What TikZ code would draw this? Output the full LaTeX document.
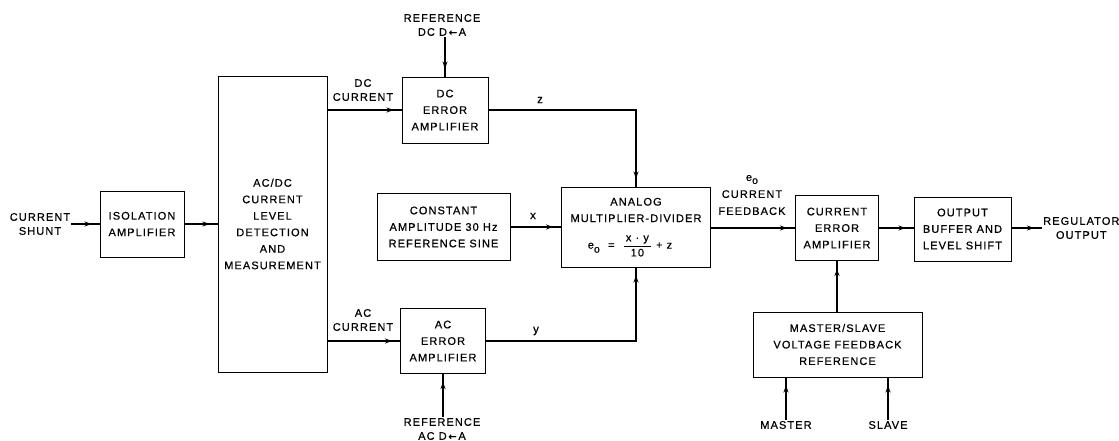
\documentclass[tikz,border=0pt]{standalone}
\usepackage{fontspec}
\usepackage{amsmath}
\setmainfont{Liberation Sans}[LetterSpace=10,FakeBold=0.6]
\newfontfamily\dvs{DejaVu Sans}[FakeBold=0.6]
\usetikzlibrary{arrows.meta,decorations.markings}
\newcommand{\lar}{{\dvs\fontsize{10}{10}\selectfont\,←\,}}
\begin{document}
\begin{tikzpicture}[x=1pt,y=-1pt,
  blk/.style={draw, line width=0.9pt, inner sep=0pt, align=center,
    font=\fontsize{11}{16.5}\selectfont},
  lbl/.style={inner sep=1pt, align=center, font=\fontsize{11}{14}\selectfont},
  sym/.style={inner sep=0pt, font=\fontsize{11.5}{11.5}\selectfont},
  conn/.style={line width=1.7pt, postaction={decorate},
    decoration={markings, mark=at position -8pt with {\arrow{Stealth[length=7pt,width=5pt]}}}}]
\useasboundingbox (0,0) rectangle (1119,440);
% boxes
\node[blk, minimum width=84pt, minimum height=66pt] (iso) at (142,224) {ISOLATION\\AMPLIFIER};
\node[blk, minimum width=109pt, minimum height=296pt] (acdc) at (272.5,224) {AC/DC\\CURRENT\\LEVEL\\DETECTION\\AND\\MEASUREMENT};
\node[blk, minimum width=86pt, minimum height=66pt] (dcea) at (445,110) {DC\\ERROR\\AMPLIFIER};
\node[blk, minimum width=85pt, minimum height=65pt] (acea) at (443,341) {AC\\ERROR\\AMPLIFIER};
\node[blk, minimum width=133pt, minimum height=67pt] (const) at (443.5,227) {CONSTANT\\AMPLITUDE 30 Hz\\REFERENCE SINE};
\node[blk, minimum width=149pt, minimum height=80pt] (mult) at (636,227) {};
\node[lbl] (multt) at (636,210) {ANALOG\\[2.5pt]MULTIPLIER-DIVIDER};
\node[lbl] (multf) at (630,246)
  {e\raisebox{-4pt}{\fontsize{10.5}{10.5}\selectfont o}\ \ =\ \ $\dfrac{\text{\,x · y\,}\rule[-2pt]{0pt}{0pt}}{\rule{0pt}{9pt}\text{10}}$\ + z};
\node[blk, minimum width=83pt, minimum height=65pt] (cea) at (837,228) {CURRENT\\ERROR\\AMPLIFIER};
\node[blk, minimum width=97pt, minimum height=64pt] (obuf) at (962.5,229) {OUTPUT\\BUFFER AND\\LEVEL SHIFT};
\node[blk, minimum width=169pt, minimum height=65pt] (ms) at (837.5,344.5) {MASTER/SLAVE\\VOLTAGE FEEDBACK\\REFERENCE};
% labels
\node[lbl] (shunt) at (40,224) {CURRENT\\SHUNT};
\node[lbl] (dccur) at (363,90) {DC\\CURRENT};
\node[lbl] (accur) at (363,320) {AC\\CURRENT};
\node[lbl] (refdc) at (442,25) {REFERENCE\\DC D\lar A};
\node[lbl] (refac) at (442,429) {REFERENCE\\AC D\lar A};
\node[sym] (zl) at (540,100) {z};
\node[sym] (xl) at (533,216) {x};
\node[sym] (yl) at (536,331) {y};
\node[lbl, font=\fontsize{11}{17}\selectfont] (fb) at (752,195) {e\raisebox{-3pt}{\fontsize{10.5}{10.5}\selectfont o}\\CURRENT\\FEEDBACK};
\node[lbl, anchor=west] (reg) at (1042,228) {REGULATOR\\OUTPUT};
\node[lbl] (master) at (786,425) {MASTER};
\node[lbl] (slave) at (888,425) {SLAVE};
% connectors
\draw[conn] (shunt.east) -- (iso.west);
\draw[conn] (iso.east) -- (acdc.west);
\draw[conn] (acdc.east |- dcea.west) -- (dcea.west);
\draw[conn] (acdc.east |- acea.west) -- (acea.west);
\draw[conn] (refdc.south -| dcea.north) -- (dcea.north);
\draw[conn] (refac.north -| acea.south) -- (acea.south);
\draw[conn] (dcea.east) -| (mult.north);
\draw[conn] (acea.east) -| (mult.south);
\draw[conn] (const.east) -- (const.east -| mult.west);
\draw[conn] (cea.west -| mult.east) -- (cea.west);
\draw[conn] (cea.east) -- (cea.east -| obuf.west);
\draw[conn] (obuf.east |- reg.west) -- (reg.west);
\draw[conn] (ms.north -| cea.south) -- (cea.south);
\draw[conn] (master.north) -- (master.north |- ms.south);
\draw[conn] (slave.north) -- (slave.north |- ms.south);
\end{tikzpicture}
\end{document}
